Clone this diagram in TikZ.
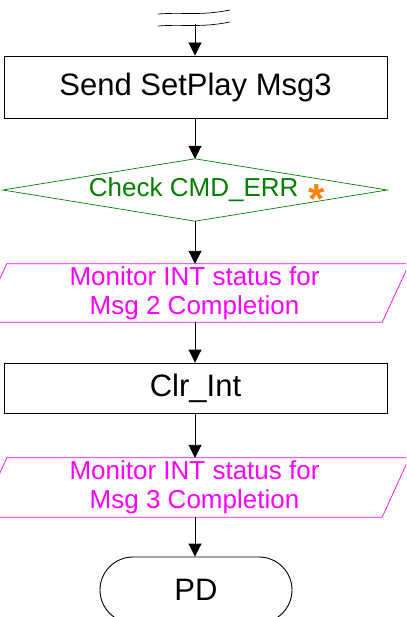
\documentclass[tikz,border=0pt]{standalone}
\usepackage{fontspec}
\setmainfont{Liberation Sans}
\usetikzlibrary{arrows.meta}

\definecolor{fcink}{HTML}{000000}
\definecolor{fcgreen}{HTML}{008000}
\definecolor{fcpink}{HTML}{FF00FF}
\definecolor{fcorange}{HTML}{FF8000}

\tikzset{
  flow/.style={fcink, line width=0.9pt, -{Triangle[width=13pt, length=13pt]}},
  procbox/.style={draw=fcink, line width=0.9pt, minimum width=383pt,
    inner sep=0pt, font=\fontsize{31}{34}\selectfont},
  iobox/.style={minimum width=429pt, minimum height=61pt, inner sep=0pt,
    align=center, text=fcpink, font=\fontsize{26}{29}\selectfont},
}

\begin{document}
\begin{tikzpicture}[
  x=1pt, y=-1pt,
]
\useasboundingbox (0,0) rectangle (406,617);
\clip (0,0) rectangle (406,617);

% break marks at the top
\draw[fcink, line width=0.7pt]
  (158,14) .. controls (185,12) and (200,16) .. (230,10);
\draw[fcink, line width=0.7pt]
  (158,26) .. controls (185,24) and (200,28) .. (230,22);
\coordinate (brk) at (195,24);

\node[procbox, minimum height=62pt] (send) at (195.5,87) {Send SetPlay Msg3};

% decision
\node[minimum width=384pt, minimum height=62pt, inner sep=0pt,
  text=fcgreen, font=\fontsize{26}{29}\selectfont]
  (chk) at (195,190) {\hspace*{24pt}Check CMD\_ERR\hspace{3pt}
  \textcolor{fcorange}{\smash{\raisebox{-17pt}{\fontsize{42}{42}\selectfont\bfseries *}}}};
\draw[fcgreen, line width=0.7pt]
  (chk.west) -- (chk.north) -- (chk.east) -- (chk.south) -- cycle;

\node[iobox] (mon2) at (194.5,293) {Monitor INT status for\\Msg 2 Completion};
\draw[fcpink, line width=0.7pt]
  ([xshift=27pt,yshift=-1.5pt]mon2.north west) -- ([yshift=-1.5pt]mon2.north east)
  -- ([xshift=-27pt,yshift=1.5pt]mon2.south east) -- ([yshift=1.5pt]mon2.south west) -- cycle;

\node[procbox, minimum height=50pt] (clr) at (195.5,388) {Clr\_Int};

\node[iobox, minimum height=62pt] (mon3) at (194.5,487.5) {Monitor INT status for\\Msg 3 Completion};
\draw[fcpink, line width=0.7pt]
  ([xshift=27pt,yshift=-1.5pt]mon3.north west) -- ([yshift=-1.5pt]mon3.north east)
  -- ([xshift=-27pt,yshift=1.5pt]mon3.south east) -- ([yshift=1.5pt]mon3.south west) -- cycle;

\node[draw=fcink, line width=0.9pt, rounded corners=33pt,
  minimum width=192pt, minimum height=66pt, inner sep=0pt,
  font=\fontsize{31}{34}\selectfont]
  (pd) at (196,590) {PD};

% connectors
\draw[flow] (brk) -- (send.north -| brk);
\draw[flow] (send.south -| brk) -- (chk.north);
\draw[flow] (chk.south) -- ([yshift=-1.5pt]mon2.north -| chk.south);
\draw[flow] ([yshift=1.5pt]mon2.south -| chk.south) -- (clr.north -| chk.south);
\draw[flow] (clr.south -| chk.south) -- ([yshift=-1.5pt]mon3.north -| chk.south);
\draw[flow] ([yshift=1.5pt]mon3.south -| chk.south) -- (pd.north -| chk.south);

\end{tikzpicture}
\end{document}
